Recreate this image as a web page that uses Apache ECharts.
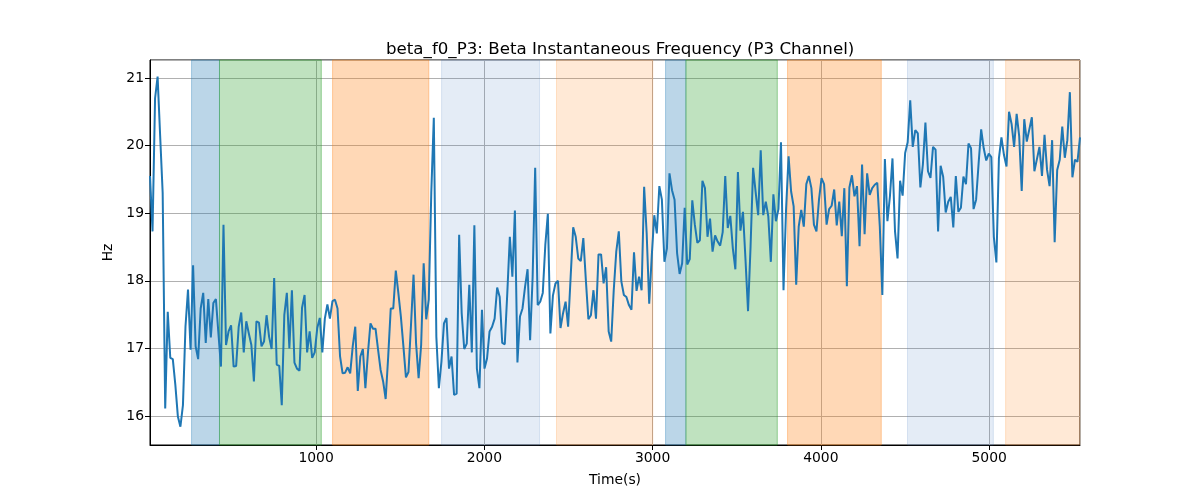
<!DOCTYPE html>
<html>
<head>
<meta charset="utf-8">
<script src="https://cdn.jsdelivr.net/npm/echarts@6/dist/echarts.min.js"></script>
<style>
html,body{margin:0;padding:0;background:#fff;}
#chart{width:1200px;height:500px;}
</style>
</head>
<body>
<div id="chart"></div>
<script>
// ---- data ----
const TITLE = 'beta_f0_P3: Beta Instantaneous Frequency (P3 Channel)';
const T_START = 13;      // time of first sample (s)
const T_STEP = 15.06;    // sampling step (s)
const freqHz = [
  19.55, 18.73, 20.70, 21.02, 20.15, 19.30, 16.11, 17.54, 16.86, 16.84, 16.46, 15.99,
  15.84, 16.16, 17.32, 17.87, 16.98, 18.23, 17.03, 16.84, 17.59, 17.82,
  17.08, 17.73, 17.16, 17.67, 17.73, 17.22, 16.73, 18.83, 17.05, 17.25,
  17.34, 16.73, 16.74, 17.32, 17.53, 16.94, 17.40, 17.22, 17.05, 16.51,
  17.40, 17.38, 17.03, 17.10, 17.49, 17.17, 16.99, 18.04, 16.76, 16.74,
  16.16, 17.49, 17.82, 17.00, 17.86, 16.79, 16.70, 16.67, 17.60, 17.79,
  16.94, 17.25, 16.86, 16.94, 17.30, 17.45, 16.94, 17.44, 17.65, 17.44,
  17.70, 17.72, 17.59, 16.88, 16.63, 16.64, 16.72, 16.63, 17.03, 17.32,
  16.37, 16.88, 16.99, 16.41, 16.93, 17.37, 17.29, 17.29, 16.98, 16.68,
  16.51, 16.25, 16.88, 17.59, 17.59, 18.15, 17.82, 17.47, 17.03, 16.57,
  16.65, 17.35, 18.09, 17.07, 16.56, 17.05, 18.26, 17.43, 17.72, 19.30,
  20.41, 17.17, 16.41, 16.80, 17.37, 17.45, 16.70, 16.88, 16.31, 16.33,
  18.68, 17.52,
  16.99, 17.07, 17.94, 16.94, 18.82, 16.70, 16.41, 17.57, 16.70, 16.85,
  17.25, 17.32, 17.44, 17.90, 17.76, 17.08, 17.06, 17.82, 18.65, 18.06,
  19.04, 16.79, 17.47, 17.59, 17.91, 18.17, 17.12, 18.06, 19.67, 17.64,
  17.69, 17.82, 18.53, 18.99, 17.22, 17.78, 17.96, 18.00, 17.30, 17.52,
  17.69, 17.32, 18.06, 18.79, 18.65, 18.33, 18.29, 18.63, 18.01, 17.43,
  17.49, 17.86, 17.44, 18.39, 18.39, 17.96, 18.20, 17.25, 17.10, 17.86,
  18.43, 18.73,
  17.99, 17.79, 17.76, 17.64, 17.57, 18.42, 17.85, 18.06, 17.86, 19.39,
  18.70, 17.66, 18.36, 18.97, 18.70, 19.40, 19.20, 18.28, 18.48, 19.59,
  19.34, 19.20, 18.41, 18.10, 18.26, 19.08, 18.24, 18.32, 19.19, 18.83,
  18.56, 18.60, 19.48, 19.37, 18.65, 18.92, 18.43, 18.67, 18.58, 18.52,
  18.72, 19.55, 18.78, 18.96, 18.48, 18.17, 19.61, 18.74, 19.02, 18.31,
  17.55, 18.51, 19.67, 19.31, 18.97, 19.93, 18.97, 19.17, 18.95, 18.28,
  19.28,
  18.88, 19.06, 20.05, 17.86, 19.05, 19.84, 19.32, 19.10, 17.94, 18.80,
  19.05, 18.80, 19.43, 19.55, 19.37, 18.83, 18.73, 19.20, 19.52, 19.43,
  18.83, 19.06, 19.11, 19.35, 18.82, 19.17, 18.66, 19.37, 17.92, 19.38,
  19.56, 19.25, 19.40, 18.51, 19.72, 18.69, 19.59, 19.27, 19.37, 19.42,
  19.45, 18.80, 17.79, 19.80, 18.88, 19.25, 19.81, 18.73, 18.33, 19.48,
  19.26, 19.89, 20.05, 20.67, 19.98, 20.23, 20.18, 19.38, 19.72, 20.34,
  19.62, 19.52,
  19.98, 19.94, 18.73, 19.70, 19.54, 19.01, 19.17, 19.24, 18.79, 19.55,
  19.02, 19.08, 19.54, 19.43, 20.03, 19.96, 19.06, 19.20, 19.74, 20.24,
  19.96, 19.78, 19.88, 19.83, 18.65, 18.27, 19.81, 20.12, 19.86, 19.69,
  20.50, 20.32, 19.98, 20.47, 20.14, 19.33, 20.39, 20.06, 20.24, 20.42,
  19.62, 19.80, 19.98, 19.55, 20.16, 19.64, 19.40, 20.08, 18.57, 19.64,
  19.79, 20.28, 19.82, 20.08, 20.79, 19.53, 19.79, 19.76, 20.12
];
const regionStart = [260, 426, 1098, 1746, 2429, 3077, 3198, 3802, 4515, 5098];
const regionEnd   = [426, 1031, 1670, 2328, 3001, 3198, 3741, 4359, 5025, 5539];
const regionKind  = ['blue', 'green', 'orange', 'lightblue', 'lightorange',
                     'blue', 'green', 'orange', 'lightblue', 'lightorange'];

// ---- styling ----
const kindStyle = {
  blue:        { color: 'rgba(31,119,180,0.3)',  borderColor: 'rgba(31,119,180,0.35)' },
  green:       { color: 'rgba(44,160,44,0.3)',   borderColor: 'rgba(44,160,44,0.45)' },
  orange:      { color: 'rgba(255,127,14,0.3)',  borderColor: 'rgba(255,127,14,0.35)' },
  lightblue:   { color: 'rgba(75,128,195,0.15)', borderColor: 'rgba(75,128,195,0.18)' },
  lightorange: { color: 'rgba(255,127,14,0.17)', borderColor: 'rgba(255,127,14,0.2)' }
};

const lineData = freqHz.map((v, i) => [T_START + i * T_STEP, v]);
const xMin = lineData[0][0];
const xMax = lineData[lineData.length - 1][0];

const areaData = regionStart.map((s, i) => [
  { xAxis: s, itemStyle: Object.assign({ borderWidth: 1 }, kindStyle[regionKind[i]]) },
  { xAxis: Math.min(regionEnd[i], xMax) }
]);

const FONT = 'DejaVu Sans';
const chart = echarts.init(document.getElementById('chart'), null, { renderer: 'canvas' });
chart.setOption({
  animation: false,
  backgroundColor: '#fff',
  title: {
    text: TITLE,
    left: 381,
    top: 36,
    textStyle: { fontFamily: FONT, fontSize: 16.67, fontWeight: 'normal', color: '#000' }
  },
  grid: {
    left: 150, right: 120, top: 60, bottom: 55,
    show: true, borderColor: '#000', borderWidth: 1, backgroundColor: 'transparent'
  },
  xAxis: {
    type: 'value',
    min: xMin, max: xMax,
    splitNumber: 5,
    name: 'Time(s)',
    nameLocation: 'middle',
    nameGap: 28,
    nameTextStyle: { fontFamily: FONT, fontSize: 13.9, color: '#000' },
    axisLine: { show: true, onZero: false, lineStyle: { color: '#000', width: 1 } },
    axisTick: { show: true, length: 5, lineStyle: { color: '#000' } },
    axisLabel: { fontFamily: FONT, fontSize: 13.9, color: '#000', margin: 6,
                 showMinLabel: false, showMaxLabel: false, formatter: v => String(v) },
    splitLine: { show: true, lineStyle: { color: '#b0b0b0', width: 1 } }
  },
  yAxis: {
    type: 'value',
    min: 15.57, max: 21.266,
    splitNumber: 5,
    name: 'Hz',
    nameLocation: 'middle',
    nameGap: 34,
    nameRotate: 90,
    nameTextStyle: { fontFamily: FONT, fontSize: 13.9, color: '#000' },
    axisLine: { show: true, onZero: false, lineStyle: { color: '#000', width: 1 } },
    axisTick: { show: true, length: 5, lineStyle: { color: '#000' } },
    axisLabel: { fontFamily: FONT, fontSize: 13.9, color: '#000', margin: 6,
                 showMinLabel: false, showMaxLabel: false, formatter: v => String(v) },
    splitLine: { show: true, lineStyle: { color: '#b0b0b0', width: 1 } }
  },
  series: [
    {
      type: 'line',
      data: [],
      z: 1,
      silent: true,
      markArea: { silent: true, data: areaData }
    },
    {
      type: 'line',
      data: lineData,
      z: 3,
      showSymbol: false,
      symbol: 'none',
      lineStyle: { color: '#1f77b4', width: 2 },
      itemStyle: { color: '#1f77b4' }
    }
  ]
});
</script>
</body>
</html>
